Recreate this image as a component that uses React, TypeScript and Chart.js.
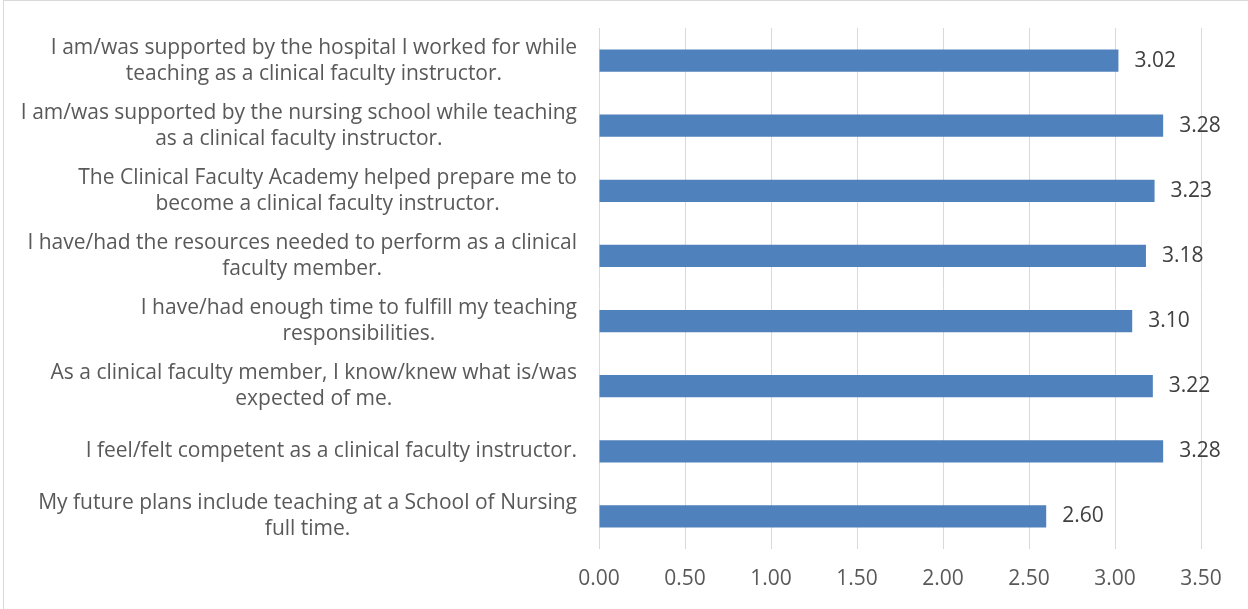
import React, { useEffect, useRef } from 'react';
import { Chart, registerables } from 'chart.js';

Chart.register(...registerables);

const categories: string[][] = [
  ['I am/was supported by the hospital I worked for while', 'teaching as a clinical faculty instructor.'],
  ['I am/was supported by the nursing school while teaching', 'as a clinical faculty instructor.'],
  ['The Clinical Faculty Academy helped prepare me to', 'become a clinical faculty instructor.'],
  ['I have/had the resources needed to perform as a clinical', 'faculty member.'],
  ['I have/had enough time to fulfill my teaching', 'responsibilities.'],
  ['As a clinical faculty member, I know/knew what is/was', 'expected of me.'],
  ['I feel/felt competent as a clinical faculty instructor.'],
  ['My future plans include teaching at a School of Nursing', 'full time.'],
];
const values: number[] = [3.02, 3.28, 3.23, 3.18, 3.1, 3.22, 3.28, 2.6];
const xMin = 0;
const xMax = 3.5;
const xStep = 0.5;

const FONT = "'Open Sans', sans-serif";
const FONT_SIZE = 21;
const LINE_H = 26;

const labelPlugin = {
  id: 'customLabels',
  afterDraw(chart: any) {
    const ctx = chart.ctx as CanvasRenderingContext2D;
    const yScale = chart.scales.y;
    ctx.save();
    ctx.font = `${FONT_SIZE}px ${FONT}`;
    ctx.textBaseline = 'middle';
    ctx.fillStyle = '#595959';
    ctx.textAlign = 'center';
    const right = yScale.right - 22;
    categories.forEach((lines, i) => {
      const cy = yScale.getPixelForValue(i);
      const maxW = Math.max(...lines.map((l) => ctx.measureText(l).width));
      const cx = right - maxW / 2;
      lines.forEach((l, j) => {
        ctx.fillText(l, cx, cy + (j - (lines.length - 1) / 2) * LINE_H);
      });
    });
    ctx.fillStyle = '#404040';
    ctx.textAlign = 'left';
    const meta = chart.getDatasetMeta(0);
    meta.data.forEach((bar: any, i: number) => {
      ctx.fillText(values[i].toFixed(2), bar.x + 16, bar.y);
    });
    ctx.restore();
  },
};

export default function App() {
  const ref = useRef<HTMLCanvasElement>(null);
  useEffect(() => {
    if (!ref.current) return;
    const chart = new Chart(ref.current, {
      type: 'bar',
      data: {
        labels: categories,
        datasets: [
          {
            data: values,
            backgroundColor: '#4F81BD',
            borderWidth: 0,
            barPercentage: 0.34,
            categoryPercentage: 1,
          },
        ],
      },
      options: {
        indexAxis: 'y',
        animation: false,
        responsive: false,
        devicePixelRatio: 1,
        layout: { padding: { top: 28, right: 47, bottom: 0, left: 0 } },
        plugins: { legend: { display: false }, tooltip: { enabled: false } },
        scales: {
          x: {
            min: xMin,
            max: xMax,
            ticks: {
              stepSize: xStep,
              callback: (v: any) => Number(v).toFixed(2),
              color: '#595959',
              font: { family: FONT, size: FONT_SIZE },
              padding: 17,
            },
            grid: { color: '#d9d9d9', lineWidth: 1, drawTicks: false },
            border: { display: false },
            afterFit: (s: any) => {
              s.height = 60;
            },
          },
          y: {
            ticks: { display: false },
            grid: { display: false },
            border: { display: false },
            afterFit: (s: any) => {
              s.width = 599;
            },
          },
        },
      },
      plugins: [labelPlugin],
    });
    return () => chart.destroy();
  }, []);
  return (
    <div style={{ position: 'fixed', left: 0, top: 0, width: 1248, height: 609, background: '#fff', overflow: 'hidden' }}>
      <div style={{ position: 'absolute', left: 3, top: 0, width: 1260, height: 620, border: '1px solid #d9d9d9', boxSizing: 'border-box' }} />
      <canvas ref={ref} width={1248} height={609} style={{ position: 'absolute', left: 0, top: 0 }} />
    </div>
  );
}
